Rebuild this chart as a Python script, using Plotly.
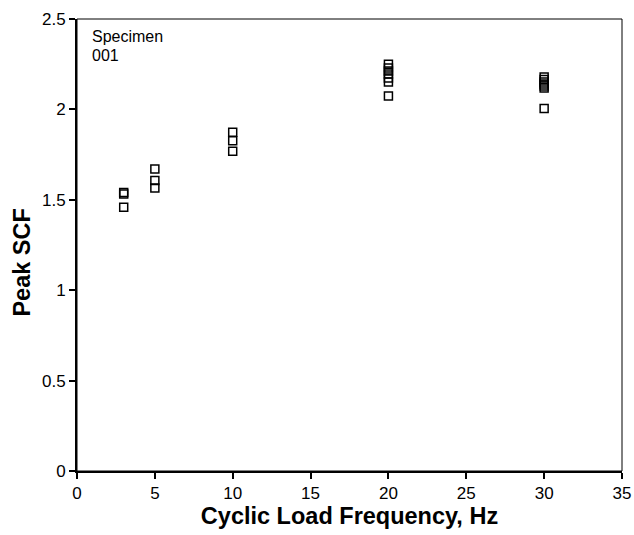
import plotly.graph_objects as go

freq_3 = [3, 3, 3]
scf_3 = [1.540, 1.532, 1.459]
freq_5 = [5, 5, 5]
scf_5 = [1.671, 1.607, 1.565]
freq_10 = [10, 10, 10]
scf_10 = [1.873, 1.826, 1.769]
freq_20 = [20, 20, 20, 20, 20, 20, 20]
scf_20 = [2.250, 2.229, 2.213, 2.196, 2.174, 2.152, 2.074]
freq_30 = [30, 30, 30, 30, 30, 30, 30]
scf_30 = [2.179, 2.165, 2.151, 2.140, 2.129, 2.118, 2.005]

x_ticks = [0, 5, 10, 15, 20, 25, 30, 35]
y_ticks = [0, 0.5, 1, 1.5, 2, 2.5]
y_tick_text = ["0", "0.5", "1", "1.5", "2", "2.5"]

xs = freq_3 + freq_5 + freq_10 + freq_20 + freq_30
ys = scf_3 + scf_5 + scf_10 + scf_20 + scf_30

fig = go.Figure()
fig.add_trace(go.Scatter(
    x=xs, y=ys, mode="markers",
    marker=dict(symbol="square-open", size=8, color="black",
                line=dict(color="black", width=1.5)),
    showlegend=False,
))

font_family = "Liberation Sans, Arial, sans-serif"

fig.update_layout(
    width=634, height=535,
    margin=dict(l=77, r=12, t=19, b=64, autoexpand=False),
    paper_bgcolor="white", plot_bgcolor="white",
    font=dict(family=font_family, size=17, color="black"),
    xaxis=dict(
        range=[0, 35], tickvals=x_ticks, ticktext=[str(v) for v in x_ticks],
        showgrid=False, zeroline=False, showline=True, linecolor="black", linewidth=2,
        ticks="outside", ticklen=6, tickwidth=1.5, tickcolor="black",
        tickfont=dict(size=17), automargin=False,
        title=dict(text="<b>Cyclic Load Frequency, Hz</b>", font=dict(size=23.5), standoff=4),
    ),
    yaxis=dict(
        range=[0, 2.5], tickvals=y_ticks, ticktext=y_tick_text,
        showgrid=False, zeroline=False, showline=True, linecolor="black", linewidth=2,
        ticks="outside", ticklen=6, tickwidth=1.5, tickcolor="black",
        tickfont=dict(size=17), automargin=False,
    ),
    shapes=[dict(type="rect", xref="paper", yref="paper", x0=0, x1=1, y0=0, y1=1,
                 line=dict(color="black", width=1))],
    annotations=[
        dict(text="<b>Peak SCF</b>", xref="paper", yref="paper", x=-0.1, y=0.46,
             xanchor="center", yanchor="middle", textangle=-90, showarrow=False,
             font=dict(size=23.5)),
        dict(text="Specimen", xref="paper", yref="paper", x=0.024, y=0.985,
             xanchor="left", yanchor="top", showarrow=False, font=dict(size=16)),
        dict(text="001", xref="paper", yref="paper", x=0.024, y=0.943,
             xanchor="left", yanchor="top", showarrow=False, font=dict(size=16)),
    ],
)

fig.write_html("out.html")
